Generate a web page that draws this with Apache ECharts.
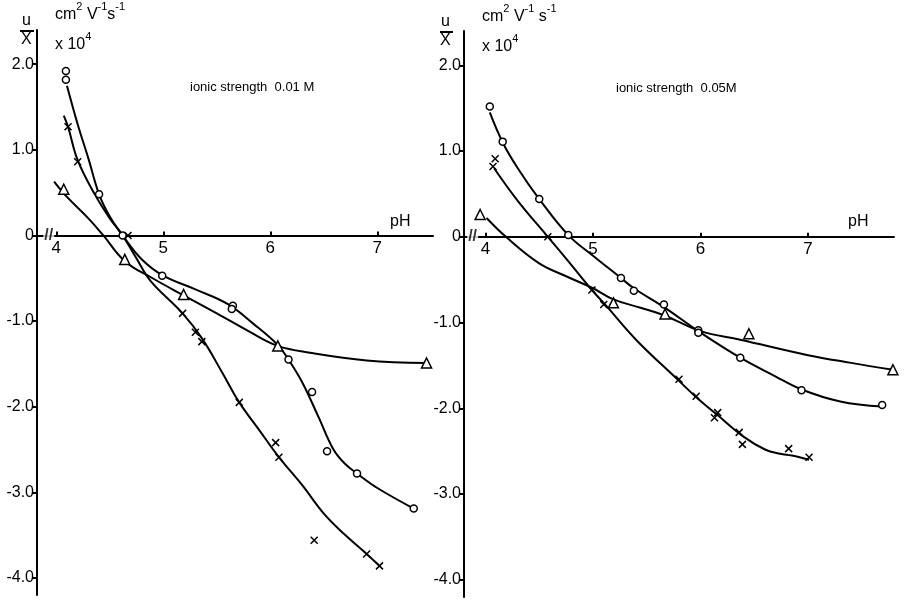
<!DOCTYPE html>
<html>
<head>
<meta charset="utf-8">
<script src="https://cdn.jsdelivr.net/npm/echarts@6/dist/echarts.min.js"></script>
<style>
  html, body { margin: 0; padding: 0; background: #fff; }
  #main { width: 907px; height: 603px; }
</style>
</head>
<body>
<div id="main"></div>
<script>
// tick values
var phTicks = [4, 5, 6, 7];
var yTicks = [-4, -3, -2, -1, 0, 1, 2];
var breakMarks = [[3.93, 0]];
var breakMarks2 = [[3.88, 0]];

// ionic strength 0.01M  (pH, u/X x10^4)
var circ01 = [[4.09, 1.92], [4.09, 1.82], [4.40, 0.48], [4.62, 0], [4.99, -0.47], [5.65, -0.82], [5.64, -0.86],
  [6.17, -1.45], [6.39, -1.83], [6.53, -2.52], [6.81, -2.78], [7.34, -3.19]];
var circ01Curve = [[4.1, 1.75], [4.2, 1.3], [4.3, 0.9], [4.4, 0.48], [4.5, 0.22], [4.62, 0], [4.8, -0.28], [5.0, -0.47],
  [5.3, -0.63], [5.6, -0.8], [5.84, -1.03], [6.07, -1.28], [6.17, -1.45], [6.3, -1.72], [6.45, -2.12],
  [6.59, -2.5], [6.7, -2.67], [6.81, -2.78], [7.0, -2.95], [7.34, -3.19]];
var cross01 = [[4.11, 1.27], [4.20, 0.86], [4.67, 0], [5.18, -0.91], [5.30, -1.13], [5.36, -1.24], [5.71, -1.95],
  [6.05, -2.42], [6.08, -2.59], [6.41, -3.56], [6.90, -3.72], [7.02, -3.86]];
var cross01Curve = [[4.07, 1.4], [4.11, 1.27], [4.2, 0.88], [4.36, 0.48], [4.5, 0.2], [4.62, 0], [4.75, -0.27],
  [4.88, -0.53], [5.18, -0.91], [5.36, -1.2], [5.55, -1.6], [5.71, -1.95], [5.9, -2.28], [6.08, -2.59],
  [6.3, -2.92], [6.5, -3.25], [6.7, -3.5], [6.9, -3.72], [7.02, -3.86]];
var tri01 = [[4.07, 0.54], [4.64, -0.28], [5.19, -0.69], [6.07, -1.29], [7.46, -1.49]];
var tri01Curve = [[3.98, 0.63], [4.1, 0.45], [4.3, 0.2], [4.44, 0], [4.64, -0.3], [4.9, -0.5], [5.19, -0.7],
  [5.5, -0.91], [5.8, -1.12], [6.07, -1.29], [6.37, -1.37], [6.9, -1.46], [7.46, -1.49]];

// ionic strength 0.05M
var circ05 = [[4.04, 1.52], [4.16, 1.11], [4.50, 0.44], [4.77, 0.02], [5.26, -0.48], [5.38, -0.63], [5.66, -0.79],
  [5.98, -1.09], [5.98, -1.12], [6.37, -1.41], [6.94, -1.79], [7.69, -1.96]];
var circ05Curve = [[4.04, 1.45], [4.16, 1.1], [4.3, 0.8], [4.5, 0.44], [4.77, 0.02], [5.0, -0.22], [5.26, -0.48],
  [5.38, -0.6], [5.66, -0.82], [5.98, -1.1], [6.37, -1.41], [6.7, -1.63], [6.94, -1.78], [7.3, -1.92], [7.69, -1.98]];
var cross05 = [[4.09, 0.91], [4.07, 0.82], [4.58, 0], [4.99, -0.62], [5.10, -0.79], [5.80, -1.66], [5.96, -1.86],
  [6.16, -2.05], [6.13, -2.11], [6.36, -2.28], [6.39, -2.42], [6.82, -2.47], [7.01, -2.57]];
var cross05Curve = [[4.08, 0.8], [4.3, 0.42], [4.58, 0], [4.8, -0.33], [4.99, -0.62], [5.12, -0.8], [5.4, -1.2],
  [5.8, -1.68], [5.96, -1.87], [6.15, -2.07], [6.4, -2.33], [6.6, -2.48], [6.74, -2.53], [6.85, -2.55], [7.01, -2.6]];
var tri05 = [[3.95, 0.26], [5.19, -0.77], [5.67, -0.90], [6.45, -1.13], [7.79, -1.55]];
var tri05Curve = [[4.01, 0.22], [4.19, 0], [4.5, -0.31], [4.75, -0.46], [5.0, -0.6], [5.19, -0.73], [5.45, -0.83],
  [5.67, -0.92], [6.0, -1.1], [6.37, -1.2], [7.0, -1.38], [7.4, -1.47], [7.79, -1.55]];

var crossPath = "path://M0,0L10,10M10,0L0,10";
var font = "Liberation Sans";
var yMin = -4.2, yMax = 2.4;
var grids = [
  { left: 37, top: 30, width: 396, height: 565 },
  { left: 464, top: 31, width: 430, height: 566 }
];

function xAx(idx, min, max) {
  var g = grids[idx];
  // move the axis up from the grid bottom to the y = 0 line
  var off = -g.height * (0 - yMin) / (yMax - yMin);
  return {
    type: "value", gridIndex: idx, min: min, max: max, position: "bottom", offset: off,
    splitLine: { show: false },
    axisLine: { onZero: false, lineStyle: { color: "#000", width: 2 } },
    axisTick: { show: true, inside: true, length: 4, customValues: phTicks, lineStyle: { color: "#000", width: 2 } },
    axisLabel: { customValues: phTicks, color: "#000", fontSize: 17, fontFamily: font, margin: 4 }
  };
}
function yAx(idx) {
  return {
    type: "value", gridIndex: idx, min: yMin, max: yMax,
    splitLine: { show: false },
    axisLine: { lineStyle: { color: "#000", width: 2 } },
    axisTick: { show: true, length: 5, customValues: yTicks, lineStyle: { color: "#000", width: 2 } },
    axisLabel: {
      customValues: yTicks, color: "#000", fontSize: 16, fontFamily: font, margin: 3,
      formatter: function (v) { return v === 0 ? "0" : v.toFixed(1); }
    }
  };
}
function curve(idx, data) {
  return {
    type: "line", xAxisIndex: idx, yAxisIndex: idx, data: data, smooth: 0.4,
    symbol: "none", lineStyle: { color: "#000", width: 2 }, z: 2
  };
}
function pts(idx, data, sym, size) {
  return {
    type: "scatter", xAxisIndex: idx, yAxisIndex: idx, data: data, symbol: sym, symbolSize: size,
    itemStyle: { color: sym === crossPath ? "none" : "#fff", borderColor: "#000", borderWidth: 1.5, opacity: 1 },
    z: 3
  };
}
function brk(idx, data) {
  return {
    type: "scatter", xAxisIndex: idx, yAxisIndex: idx, data: data, symbolSize: 1,
    itemStyle: { color: "#fff" }, z: 4,
    label: { show: true, position: "inside", formatter: "//", color: "#000", fontSize: 16,
      fontWeight: "bold", fontFamily: font, backgroundColor: "#fff", padding: [0, 1] }
  };
}
function txt(x, y, s, size, align) {
  return { type: "text", left: x, top: y, style: { text: s, fill: "#000", font: size + "px " + font, textAlign: align || "left" } };
}
// text with superscripts, {s|..} pieces are raised
function unitTxt(x, y, s) {
  return {
    type: "text", left: x, top: y,
    style: {
      text: s, fill: "#000", fontSize: 16, fontFamily: font,
      rich: {
        n: { fontSize: 16, fontFamily: font, lineHeight: 22, verticalAlign: "bottom" },
        s: { fontSize: 11, fontFamily: font, lineHeight: 22, verticalAlign: "top" }
      }
    }
  };
}

var chart = echarts.init(document.getElementById("main"));
chart.setOption({
  animation: false,
  backgroundColor: "#fff",
  grid: grids,
  xAxis: [xAx(0, 3.82, 7.52), xAx(1, 3.8, 7.8)],
  yAxis: [yAx(0), yAx(1)],
  series: [
    curve(0, circ01Curve), curve(0, cross01Curve), curve(0, tri01Curve),
    pts(0, circ01, "circle", 7), pts(0, cross01, crossPath, 7), pts(0, tri01, "triangle", 10),
    brk(0, breakMarks),
    curve(1, circ05Curve), curve(1, cross05Curve), curve(1, tri05Curve),
    pts(1, circ05, "circle", 7), pts(1, cross05, crossPath, 7), pts(1, tri05, "triangle", 10),
    brk(1, breakMarks2)
  ],
  graphic: [
    txt(22, 13, "u", 16),
    { type: "line", shape: { x1: 20, y1: 31, x2: 34, y2: 31 }, style: { stroke: "#000", lineWidth: 2 } },
    txt(21, 32, "X", 16),
    unitTxt(55, 1, "{n|cm}{s|2}{n| V}{s|-1}{n|s}{s|-1}"),
    unitTxt(55, 31, "{n|x 10}{s|4}"),
    txt(190, 81, "ionic strength  0.01 M", 13),
    txt(390, 214, "pH", 16),

    txt(441, 14, "u", 16),
    { type: "line", shape: { x1: 440, y1: 32, x2: 453, y2: 32 }, style: { stroke: "#000", lineWidth: 2 } },
    txt(440, 33, "X", 16),
    unitTxt(482, 3, "{n|cm}{s|2}{n| V}{s|-1}{n| s}{s|-1}"),
    unitTxt(482, 33, "{n|x 10}{s|4}"),
    txt(616, 82, "ionic strength  0.05M", 13),
    txt(848, 214, "pH", 16)
  ]
});
</script>
</body>
</html>
